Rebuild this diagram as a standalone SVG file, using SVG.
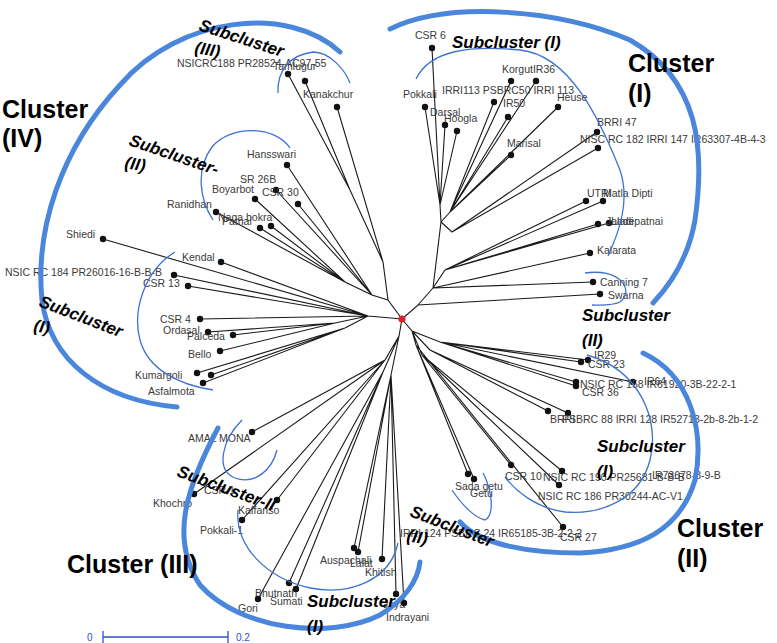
<svg xmlns="http://www.w3.org/2000/svg" width="777" height="643" viewBox="0 0 777 643">
<style>
.e{stroke:#1a1a1a;stroke-width:1.1;fill:none}
.d{fill:#111}
.l{font-family:"Liberation Sans",Arial,sans-serif;font-size:10.5px;fill:#3a3a3a}
.cl{font-family:"Liberation Sans",Arial,sans-serif;font-weight:bold;font-size:25px;fill:#000}
.sc{font-family:"Liberation Sans",Arial,sans-serif;font-weight:bold;font-style:italic;font-size:17px;fill:#000}
.tk{stroke:#4a86dc;stroke-width:5;fill:none;stroke-linecap:round}
.tn{stroke:#3d72d0;stroke-width:1.3;fill:none}
.sb{font-family:"Liberation Sans",Arial,sans-serif;font-size:10px;fill:#3050c8}
</style>
<rect width="777" height="643" fill="#fff"/>

<g id="connectors">
<!-- cluster I -->
<path class="e" d="M402,319L418,305L600,294M418,305L433,288L593,282M433,288L590,253M433,288L445,270L598,224M445,270L609,223M445,270L586,201M445,270L603,201M433,288L441,222L440,205L432,48M440,205L425,107M440,205L445,125M440,205L457,131M441,222L450,212L494,102M450,212L508,117M450,212L511,81M450,212L536,81M450,212L558,107M450,212L511,155M441,222L452,232L597,132M452,232L598,148"/>
<!-- cluster IV -->
<path class="e" d="M402,319L388,300L383,262L350,190L288,74M350,190L305,81M383,262L337,107M388,300L372,295L287,165M372,295L276,190M372,295L298,204M372,295L345,282L255,199M345,282L216,212M345,282L260,228M345,282L271,226M402,319L368,316L103,239M368,316L221,262M368,316L174,275M368,316L188,286M368,316L200,319M368,316L335,323L208,332M335,323L233,335M335,323L220,351M368,316L345,328L197,373M345,328L211,375M345,328L203,383"/>
<!-- cluster II -->
<path class="e" d="M402,319L412,331L440,342L588,360M440,342L581,362M440,342L633,382M440,342L576,382M440,342L576,386M412,331L430,350L548,411M430,350L568,413M412,331L422,355L562,471M422,355L559,485M422,355L511,465M412,331L416,345L563,527M416,345L468,474M416,345L474,479"/>
<!-- cluster III -->
<path class="e" d="M402,319L399,336L385,360L252,432M385,360L194,494M385,360L277,500M385,360L242,520M399,336L383,372L289,583M383,372L296,589M383,372L258,599M399,336L391,375L354,548M391,375L358,552M391,375L382,559M391,375L396,594M391,375L404,603"/>
</g>

<g id="center"><circle cx="402" cy="319" r="3.6" fill="#e3202a"/></g>

<!-- Cluster I leaves -->
<g id="csr6"><circle class="d" cx="432" cy="48" r="3.2"/><text class="l" x="415" y="39">CSR 6</text></g>
<g id="pokkali"><circle class="d" cx="425" cy="107" r="3.2"/><text class="l" x="403" y="98">Pokkali</text></g>
<g id="darsal"><circle class="d" cx="445" cy="125" r="3.2"/><text class="l" x="430" y="116">Darsal</text></g>
<g id="hoogla"><circle class="d" cx="457" cy="131" r="3.2"/><text class="l" x="444" y="122">Hoogla</text></g>
<g id="irri113"><circle class="d" cx="494" cy="102" r="3.2"/><text class="l" x="442" y="94">IRRI113 PSBRC50 IRRI 113</text></g>
<g id="ir50"><circle class="d" cx="508" cy="117" r="3.2"/><text class="l" x="503" y="107">IR50</text></g>
<g id="korgut"><circle class="d" cx="511" cy="81" r="3.2"/><circle class="d" cx="536" cy="81" r="3.2"/><text class="l" x="502" y="73">KorgutIR36</text></g>
<g id="heuse"><circle class="d" cx="558" cy="107" r="3.2"/><text class="l" x="557" y="101">Heuse</text></g>
<g id="marisal"><circle class="d" cx="511" cy="155" r="3.2"/><text class="l" x="507" y="147">Marisal</text></g>
<g id="brri47"><circle class="d" cx="597" cy="132" r="3.2"/><text class="l" x="597" y="126">BRRI 47</text></g>
<g id="nisc182"><circle class="d" cx="598" cy="148" r="3.2"/><text class="l" x="580" y="143">NISC RC 182 IRRI  147 IR63307-4B-4-3</text></g>
<g id="utri"><circle class="d" cx="586" cy="201" r="3.2"/><circle class="d" cx="603" cy="201" r="3.2"/><text class="l" x="587" y="197">UTRI</text><text class="l" x="603" y="197">Matla Dipti</text></g>
<g id="jala"><circle class="d" cx="598" cy="224" r="3.2"/><circle class="d" cx="609" cy="223" r="3.2"/><text class="l" x="606" y="225">Jaladi</text><text class="l" x="611" y="225">Ladepatnai</text></g>
<g id="kalarata"><circle class="d" cx="590" cy="253" r="3.2"/><text class="l" x="597" y="254">Kalarata</text></g>
<g id="canning"><circle class="d" cx="593" cy="282" r="3.2"/><text class="l" x="600" y="286">Canning 7</text></g>
<g id="swarna"><circle class="d" cx="600" cy="294" r="3.2"/><text class="l" x="608" y="299">Swarna</text></g>

<!-- Cluster IV leaves -->
<g id="nsic188"><text class="l" x="177" y="67">NSICRC188 PR28524-AC97-55</text></g>
<g id="tamlugur"><circle class="d" cx="288" cy="74" r="3.2"/><circle class="d" cx="305" cy="81" r="3.2"/><text class="l" x="273" y="70">Tamlugur</text></g>
<g id="kanakchur"><circle class="d" cx="337" cy="107" r="3.2"/><text class="l" x="303" y="98">Kanakchur</text></g>
<g id="hansswari"><circle class="d" cx="287" cy="165" r="3.2"/><text class="l" x="247" y="158">Hansswari</text></g>
<g id="sr26b"><circle class="d" cx="276" cy="190" r="3.2"/><text class="l" x="240" y="183">SR 26B</text></g>
<g id="csr30"><circle class="d" cx="298" cy="204" r="3.2"/><text class="l" x="262" y="196">CSR 30</text></g>
<g id="boyarbot"><circle class="d" cx="255" cy="199" r="3.2"/><text class="l" x="212" y="193">Boyarbot</text></g>
<g id="ranidhan"><circle class="d" cx="216" cy="212" r="3.2"/><text class="l" x="167" y="208">Ranidhan</text></g>
<g id="nagabokra"><circle class="d" cx="260" cy="228" r="3.2"/><circle class="d" cx="271" cy="226" r="3.2"/><text class="l" x="218" y="221">Naga bokra</text><text class="l" x="222" y="225">Patnai</text></g>
<g id="shiedi"><circle class="d" cx="103" cy="239" r="3.2"/><text class="l" x="66" y="238">Shiedi</text></g>
<g id="kendal"><circle class="d" cx="221" cy="262" r="3.2"/><text class="l" x="182" y="261">Kendal</text></g>
<g id="nsic184"><circle class="d" cx="174" cy="275" r="3.2"/><text class="l" x="5" y="276">NSIC RC 184 PR26016-16-B-B-B</text></g>
<g id="csr13"><circle class="d" cx="188" cy="286" r="3.2"/><text class="l" x="143" y="287">CSR 13</text></g>
<g id="csr4"><circle class="d" cx="200" cy="319" r="3.2"/><text class="l" x="160" y="323">CSR 4</text></g>
<g id="ordasal"><circle class="d" cx="208" cy="332" r="3.2"/><text class="l" x="163" y="334">Ordasal</text></g>
<g id="palceda"><circle class="d" cx="233" cy="335" r="3.2"/><text class="l" x="187" y="340">Palceda</text></g>
<g id="bello"><circle class="d" cx="220" cy="351" r="3.2"/><text class="l" x="188" y="358">Bello</text></g>
<g id="kumargoli"><circle class="d" cx="197" cy="373" r="3.2"/><circle class="d" cx="211" cy="375" r="3.2"/><circle class="d" cx="203" cy="383" r="3.2"/><text class="l" x="135" y="379">Kumargoli</text></g>
<g id="asfalmota"><text class="l" x="148" y="395">Asfalmota</text></g>

<!-- Cluster II leaves -->
<g id="ir29"><circle class="d" cx="588" cy="360" r="3.2"/><circle class="d" cx="581" cy="362" r="3.2"/><text class="l" x="594" y="359">IR29</text><text class="l" x="588" y="368">CSR 23</text></g>
<g id="nsic158"><circle class="d" cx="576" cy="382" r="3.2"/><circle class="d" cx="576" cy="386" r="3.2"/><circle class="d" cx="633" cy="382" r="3.2"/><text class="l" x="644" y="385">IR64</text><text class="l" x="580" y="388">NSIC RC 158 IR61920-3B-22-2-1</text><text class="l" x="582" y="396">CSR 36</text></g>
<g id="psbrc88"><circle class="d" cx="548" cy="411" r="3.2"/><circle class="d" cx="568" cy="413" r="3.2"/><text class="l" x="550" y="423">BRRI</text><text class="l" x="562" y="423">PSBRC 88 IRRI 128 IR52713-2b-8-2b-1-2</text></g>
<g id="csr10"><circle class="d" cx="511" cy="465" r="3.2"/><text class="l" x="505" y="480">CSR 10</text></g>
<g id="nsic190"><circle class="d" cx="562" cy="471" r="3.2"/><text class="l" x="543" y="481">NSIC RC 190 PR25681-B-B-B</text><text class="l" x="652" y="479">IR73678-8-9-B</text></g>
<g id="nsic186"><circle class="d" cx="559" cy="485" r="3.2"/><text class="l" x="538" y="500">NSIC RC 186 PR30244-AC-V1</text></g>
<g id="sadagetu"><circle class="d" cx="468" cy="474" r="3.2"/><circle class="d" cx="474" cy="479" r="3.2"/><text class="l" x="455" y="490">Sada getu</text><text class="l" x="470" y="497">Getu</text></g>
<g id="csr27"><circle class="d" cx="563" cy="527" r="3.2"/><text class="l" x="560" y="541">CSR 27</text></g>
<g id="irri124"><text class="l" x="400" y="537">IRRI 124 PSBRC 24 IR65185-3B-2-2-2</text></g>

<!-- Cluster III leaves -->
<g id="amalmona"><circle class="d" cx="252" cy="432" r="3.2"/><text class="l" x="188" y="442">AMAL MONA</text></g>
<g id="csr1"><circle class="d" cx="194" cy="494" r="3.2"/><text class="l" x="204" y="494">CSR 1</text></g>
<g id="khochro"><text class="l" x="153" y="507">Khochro</text></g>
<g id="kaffanso"><circle class="d" cx="277" cy="500" r="3.2"/><text class="l" x="238" y="514">Kaffanso</text></g>
<g id="pokkali1"><circle class="d" cx="242" cy="520" r="3.2"/><text class="l" x="200" y="534">Pokkali-1</text></g>
<g id="auspachali"><circle class="d" cx="354" cy="548" r="3.2"/><circle class="d" cx="358" cy="552" r="3.2"/><text class="l" x="320" y="564">Auspachali</text><text class="l" x="350" y="567">Lalat</text></g>
<g id="khitish"><circle class="d" cx="382" cy="559" r="3.2"/><text class="l" x="365" y="576">Khitish</text></g>
<g id="bhutnath"><circle class="d" cx="289" cy="583" r="3.2"/><text class="l" x="255" y="597">Bhutnath</text></g>
<g id="sumati"><circle class="d" cx="296" cy="589" r="3.2"/><text class="l" x="270" y="605">Sumati</text></g>
<g id="gori"><circle class="d" cx="258" cy="599" r="3.2"/><text class="l" x="238" y="612">Gori</text></g>
<g id="jaya"><circle class="d" cx="396" cy="594" r="3.2"/><text class="l" x="383" y="608">Jaya</text></g>
<g id="indrayani"><circle class="d" cx="404" cy="603" r="3.2"/><text class="l" x="386" y="621">Indrayani</text></g>

<!-- cluster arcs -->
<g id="arcs">
<path class="tk" d="M390,29C450,0 560,10 630,40C700,80 705,150 695,220C688,260 670,285 653,303"/>
<path class="tn" d="M416,79C430,50 470,45 520,50C570,55 600,120 620,170C630,200 620,230 608,256"/>
<path class="tn" d="M585,273C620,268 635,290 620,302C612,306 600,305 592,305"/>
<path class="tk" d="M643,353C690,375 705,430 695,480C680,530 640,550 580,553C530,553 480,545 460,522"/>
<path class="tn" d="M587,355C640,370 660,420 650,460C640,500 600,515 565,512C535,508 515,490 505,477"/>
<path class="tn" d="M452,490C462,505 475,518 485,520C495,515 492,490 483,473"/>
<path class="tk" d="M218,428C185,490 170,540 200,585C240,630 330,640 380,615C405,600 418,580 420,562"/>
<path class="tn" d="M242,420C222,440 215,470 235,478C255,485 272,470 277,450"/>
<path class="tn" d="M238,510C235,545 265,578 310,588C350,596 390,580 398,543"/>
<path class="tk" d="M340,52C290,5 180,15 120,85C60,150 35,230 42,300C50,360 100,400 177,407"/>
<path class="tn" d="M278,93C277,70 290,55 313,52C330,52 345,70 350,83"/>
<path class="tn" d="M290,148C275,125 230,125 212,147C195,170 200,200 213,220"/>
<path class="tn" d="M175,252C145,270 132,310 140,340C148,370 180,385 213,390"/>
</g>

<!-- cluster labels -->
<g id="cluster1"><text class="cl" x="628" y="72">Cluster</text><text class="cl" x="628" y="102">(I)</text></g>
<g id="cluster2"><text class="cl" x="677" y="537">Cluster</text><text class="cl" x="677" y="567">(II)</text></g>
<g id="cluster3"><text class="cl" x="67" y="573">Cluster (III)</text></g>
<g id="cluster4"><text class="cl" x="2" y="118">Cluster</text><text class="cl" x="2" y="147">(IV)</text></g>

<g id="sub-labels">
<text class="sc" x="452" y="48">Subcluster (I)</text>
<text class="sc" x="582" y="321">Subcluster</text><text class="sc" x="582" y="346">(II)</text>
<text class="sc" x="597" y="452">Subcluster</text><text class="sc" x="597" y="477">(I)</text>
<text class="sc" x="307" y="607">Subcluster</text><text class="sc" x="307" y="632">(I)</text>
<text class="sc" transform="translate(198,30) rotate(18)">Subcluster</text>
<text class="sc" transform="translate(194,53) rotate(10)">(III)</text>
<text class="sc" transform="translate(128,145) rotate(19)">Subcluster-</text>
<text class="sc" transform="translate(124,168) rotate(10)">(II)</text>
<text class="sc" transform="translate(38,306) rotate(21)">Subcluster</text>
<text class="sc" transform="translate(33,331) rotate(10)">(I)</text>
<text class="sc" transform="translate(176,476) rotate(20)">Subcluster-II</text>
<text class="sc" transform="translate(409,516) rotate(21)">Subcluster</text>
<text class="sc" transform="translate(406,541) rotate(10)">(II)</text>
</g>

<g id="scalebar">
<text class="sb" x="87" y="641">0</text>
<path d="M103,637H228M103,631V643M228,631V643" stroke="#3050c8" stroke-width="1.3" fill="none"/>
<text class="sb" x="236" y="641">0.2</text>
</g>
</svg>
